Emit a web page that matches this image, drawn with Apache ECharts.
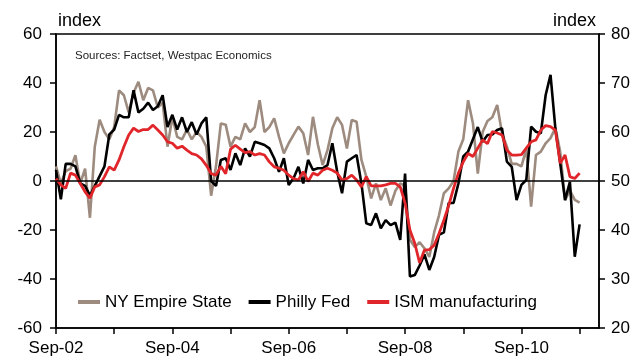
<!DOCTYPE html>
<html>
<head>
<meta charset="utf-8">
<script src="https://cdn.jsdelivr.net/npm/echarts@6/dist/echarts.min.js"></script>
<style>
html,body{margin:0;padding:0;background:#fff;}
#chart{width:639px;height:360px;}
</style>
</head>
<body>
<div id="chart"></div>
<script>
// Monthly data, Sep-02 .. Sep-11
const monthNames = ['Jan','Feb','Mar','Apr','May','Jun','Jul','Aug','Sep','Oct','Nov','Dec'];
const startMonth = 8, startYear = 2002, categoryCount = 113; // Sep-02 .. Jan-12
const categories = [];
for (let i = 0; i < categoryCount; i++) {
  const m = (startMonth + i) % 12;
  const y = startYear + Math.floor((startMonth + i) / 12);
  categories.push(monthNames[m] + '-' + String(y % 100).padStart(2, '0'));
}

const nyEmpire = [
  6, -1, 4, 5, 10.5, -1, 5, -15, 14, 25, 20, 17,
  22, 37, 35, 28, 36, 40.5, 33, 38, 37, 30, 32, 14,
  26, 18, 17, 21, 17, 20, 18, 14, -6, 6, 23.5, 23,
  14, 18, 17, 23.5, 20, 22, 33, 20, 22, 25.6, 18, 11.3,
  15.4, 18.8, 22.2, 19.5, 10.6, 26.2, 15, 6.5, 12.6, 21.5, 26, 22.9,
  13.3, 24.9, 24.2, 8.6, 1.8, -7.1, -1, -7.8, -3, -10, -4, -1,
  -2, -24, -27, -25, -27.5, -31, -21, -14, -5, -3, 0, 12,
  17, 33, 23.5, 3, 20, 24.5, 26, 31, 19.5, 14, 7, 7,
  6, 13, -10.5, 10.6, 12, 15.4, 17.5, 21.7, 11.9, -7.8, -3.8, -7.7,
  -8.8
];
const phillyFed = [
  4.5, -7.5, 7, 7, 6, -1, -2, -6, -2, 2, 6, 19,
  21, 27, 26, 26, 37, 28, 29.5, 32, 29, 30.5, 35, 22,
  27, 21, 26, 20, 24, 19, 23.5, 26, 0, -2, 8.6, 9.3,
  4.5, 11.3, 6.5, 13.3, 10, 16, 15.4, 14.7, 13.3, 9.3, 3.8, 9.3,
  -1.6, 1.1, 5.8, -1, 8.6, 4.5, 5.2, 5.2, 6.5, 15.4, 3.8, -5,
  7.9, 9.3, 10.6, -1, -17.3, -18, -13.2, -19.3, -16, -18, -17, -24,
  3, -39, -38.4, -34.5, -30, -36.3, -31, -22, -21, -9, -9, -1,
  10, 12, 17, 22, 16, 18.8, 19, 20.8, 21.5, 7.9, 5.8, -7.8,
  -1.6, 0.4, 22.2, 20.1, 19.5, 35.1, 43.3, 21.5, 7.2, -7.8, -0.3, -30.9,
  -17.7
];
const ismManufacturing = [
  50.5, 49.2, 48.5, 51.6, 51.2, 49.5, 47.8, 46.5, 48.8, 49.2, 50.9, 52.9,
  52.2, 54.3, 57, 59.4, 60.8, 60.1, 60.5, 60.5, 61.4, 60.4, 59.4, 58,
  57.7, 56.7, 57.1, 56.3, 55.6, 55.3, 54.5, 53.2, 51.5, 51.2, 53, 51.5,
  56.5, 57.3, 56.5, 55.8, 56, 55.3, 55.6, 55.3, 53.9, 52.9, 52.6, 52.2,
  51.2, 50.5, 50.2, 51.9, 49.9, 51.6, 51.2, 52.2, 52.6, 52.2, 51.6, 50.2,
  50.5, 51.2, 50.2, 48.8, 50.9, 49, 49, 49, 49.2, 49.5, 49.5, 48.8,
  45.5, 40, 37.3, 33.3, 35.9, 36, 36.9, 39.3, 42, 45, 48.5, 51.6,
  53.9, 55.6, 55, 56.7, 58.4, 57.6, 60.1, 59.8, 59.4, 56.3, 55.3, 55.3,
  55.4, 56.7, 58, 58.4, 60.4, 61.3, 61.1, 60.4, 53.6, 55.3, 50.9, 50.5,
  51.6
];
const leftTicks = {min: -60, max: 60, interval: 20};
const rightTicks = {min: 20, max: 80, interval: 10};
const seriesNames = ['NY Empire State', 'Philly Fed', 'ISM manufacturing'];
const sourceText = 'Sources: Factset, Westpac Economics';

const FONT = '"Liberation Sans", Arial, sans-serif';
const chart = echarts.init(document.getElementById('chart'), null, {renderer: 'canvas'});
chart.setOption({
  animation: false,
  backgroundColor: '#fff',
  textStyle: {fontFamily: FONT, color: '#000'},
  title: {
    text: sourceText,
    left: 75, top: 50, padding: 0,
    textStyle: {fontFamily: FONT, fontSize: 11.5, fontWeight: 'normal', color: '#222'}
  },
  legend: {
    left: 78, top: 292, padding: 0,
    itemWidth: 22, itemHeight: 4, itemGap: 17,
    icon: 'rect',
    data: seriesNames,
    textStyle: {fontFamily: FONT, fontSize: 17, color: '#000', lineHeight: 20}
  },
  grid: {left: 56, right: 40, top: 34, bottom: 32, show: true, borderColor: '#000', borderWidth: 1.5, backgroundColor: 'transparent'},
  xAxis: {
    type: 'category',
    data: categories,
    boundaryGap: false,
    axisLine: {onZero: false, lineStyle: {color: '#000', width: 1.5}},
    axisTick: {show: true, length: 6, inside: false, interval: (i) => i % 12 === 0, lineStyle: {color: '#000', width: 1.5}},
    axisLabel: {interval: (i) => i % 24 === 0, fontSize: 17, color: '#000', margin: 12, fontFamily: FONT},
    splitLine: {show: false}
  },
  yAxis: [
    {
      type: 'value', min: leftTicks.min, max: leftTicks.max, interval: leftTicks.interval,
      position: 'left',
      name: 'index', nameLocation: 'end', nameGap: 4,
      nameTextStyle: {fontSize: 18, color: '#000', align: 'left', padding: [0, 0, 0, 2], fontFamily: FONT},
      axisLine: {show: true, onZero: false, lineStyle: {color: '#000', width: 1.5}},
      axisTick: {show: true, length: 6, lineStyle: {color: '#000', width: 1.5}},
      axisLabel: {fontSize: 17, color: '#000', margin: 14, fontFamily: FONT},
      splitLine: {show: false}
    },
    {
      type: 'value', min: rightTicks.min, max: rightTicks.max, interval: rightTicks.interval,
      position: 'right',
      name: 'index', nameLocation: 'end', nameGap: 4,
      nameTextStyle: {fontSize: 18, color: '#000', align: 'right', padding: [0, 3, 0, 0], fontFamily: FONT},
      axisLine: {show: true, onZero: false, lineStyle: {color: '#000', width: 1.5}},
      axisTick: {show: true, length: 6, lineStyle: {color: '#000', width: 1.5}},
      axisLabel: {fontSize: 17, color: '#000', margin: 12, fontFamily: FONT},
      splitLine: {show: false}
    }
  ],
  series: [
    {
      name: seriesNames[0], type: 'line', yAxisIndex: 0, data: nyEmpire,
      showSymbol: false, symbol: 'none', smooth: false,
      lineStyle: {color: '#9c8b7e', width: 2.6}, itemStyle: {color: '#9c8b7e'},
      markLine: {
        silent: true, symbol: 'none', label: {show: false},
        lineStyle: {color: '#000', width: 1.5, type: 'solid'},
        data: [{yAxis: 0}]
      }
    },
    {
      name: seriesNames[1], type: 'line', yAxisIndex: 0, data: phillyFed,
      showSymbol: false, symbol: 'none', smooth: false,
      lineStyle: {color: '#000', width: 2.6}, itemStyle: {color: '#000'}
    },
    {
      name: seriesNames[2], type: 'line', yAxisIndex: 1, data: ismManufacturing,
      showSymbol: false, symbol: 'none', smooth: false,
      lineStyle: {color: '#e0262a', width: 2.8}, itemStyle: {color: '#e0262a'}
    }
  ]
});
</script>
</body>
</html>
